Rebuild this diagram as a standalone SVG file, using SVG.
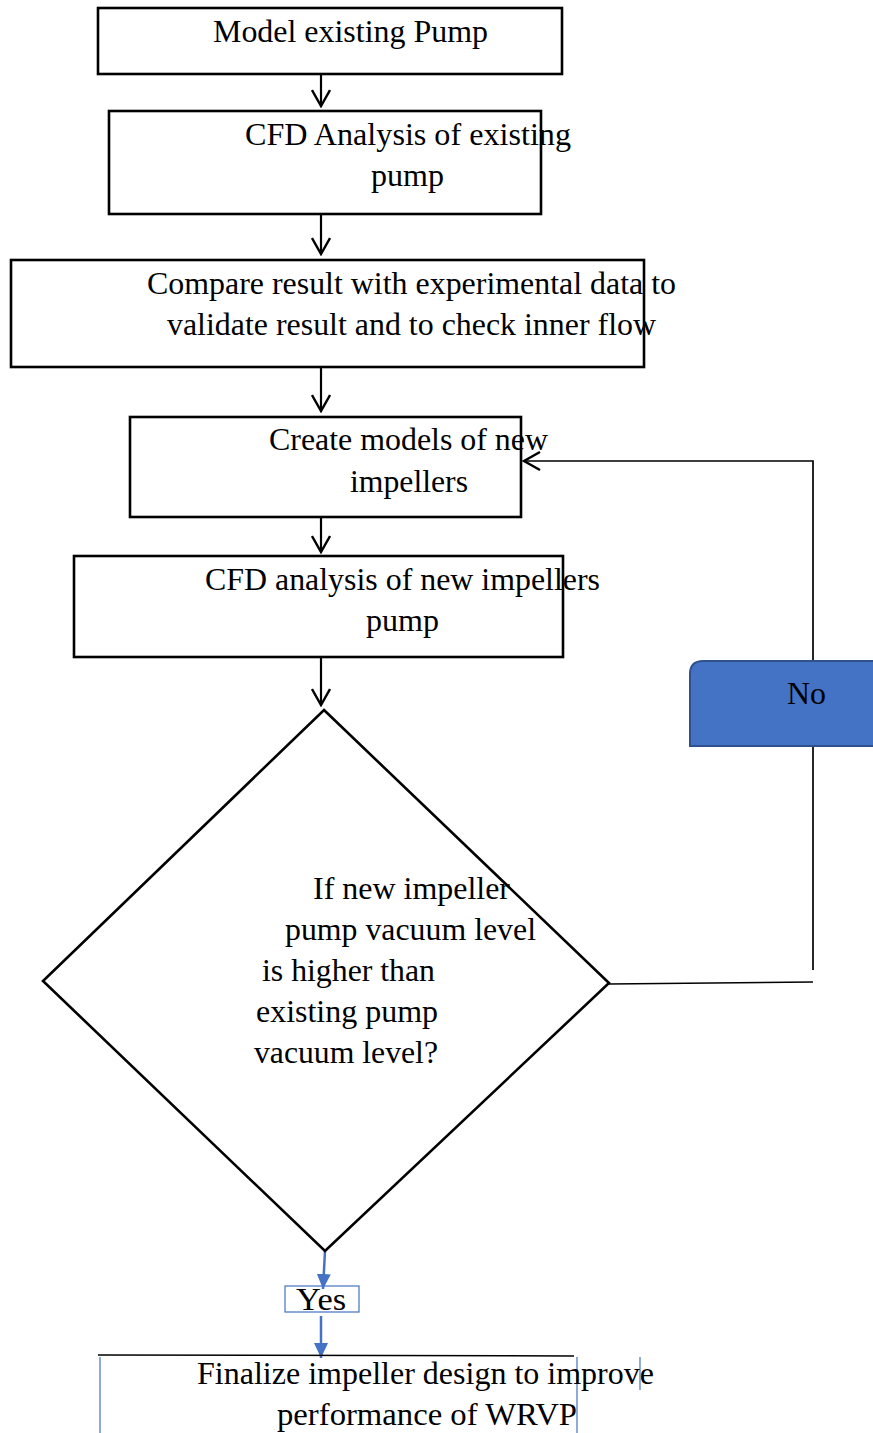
<svg xmlns="http://www.w3.org/2000/svg" width="873" height="1433" viewBox="0 0 873 1433">
<defs>
<style>
.box{fill:#fff;stroke:#000;stroke-width:2.6}
.t{font-family:"Liberation Serif","Times New Roman",Times,serif;font-size:32px;fill:#000}
.ln{fill:none;stroke:#000;stroke-width:2.2}
.thin{fill:none;stroke:#000;stroke-width:1.7}
.blue{fill:none;stroke:#4472C4;stroke-width:2.5}
.bthin{fill:none;stroke:#4472C4;stroke-width:1.2}
</style>
<marker id="open" viewBox="0 0 20 20" refX="18" refY="10" markerWidth="20" markerHeight="20" markerUnits="userSpaceOnUse" orient="auto">
<path d="M2,1 L18,10 L2,19" fill="none" stroke="#000" stroke-width="2.4"/>
</marker>
<marker id="fill" viewBox="0 0 16 16" refX="15" refY="8" markerWidth="16" markerHeight="16" markerUnits="userSpaceOnUse" orient="auto">
<path d="M0,1 L15,8 L0,15 Z" fill="#4472C4"/>
</marker>
</defs>
<g id="connectors">
<line class="ln" x1="321" y1="74" x2="321" y2="106" marker-end="url(#open)"/>
<line class="ln" x1="321" y1="214" x2="321" y2="254" marker-end="url(#open)"/>
<line class="ln" x1="321" y1="367" x2="321" y2="411" marker-end="url(#open)"/>
<line class="ln" x1="321" y1="517" x2="321" y2="552" marker-end="url(#open)"/>
<line class="ln" x1="321" y1="657" x2="321" y2="705" marker-end="url(#open)"/>
<polyline class="thin" points="609,984 813,982"/>
<line class="thin" x1="813" y1="970" x2="813" y2="746"/>
<polyline class="thin" points="813,661 813,461 524,461" marker-end="url(#open)"/>
<line class="blue" x1="325" y1="1251" x2="323" y2="1289" marker-end="url(#fill)"/>
<line class="blue" x1="321" y1="1316" x2="321" y2="1358" marker-end="url(#fill)"/>
</g>
<g id="n1">
<rect class="box" x="98" y="8" width="464" height="66"/>
<text class="t" x="213" y="42" textLength="275" lengthAdjust="spacingAndGlyphs">Model existing Pump</text>
</g>
<g id="n2">
<rect class="box" x="109" y="111" width="432" height="103"/>
<text class="t" x="245" y="145" textLength="326" lengthAdjust="spacingAndGlyphs">CFD Analysis of existing</text>
<text class="t" x="371" y="186" textLength="73" lengthAdjust="spacingAndGlyphs">pump</text>
</g>
<g id="n3">
<rect class="box" x="11" y="260" width="633" height="107"/>
<text class="t" x="147" y="294" textLength="529" lengthAdjust="spacingAndGlyphs">Compare result with experimental data to</text>
<text class="t" x="167" y="335" textLength="489" lengthAdjust="spacingAndGlyphs">validate result and to check inner flow</text>
</g>
<g id="n4">
<rect class="box" x="130" y="417" width="391" height="100"/>
<text class="t" x="269" y="450" textLength="279" lengthAdjust="spacingAndGlyphs">Create models of new</text>
<text class="t" x="350" y="492" textLength="118" lengthAdjust="spacingAndGlyphs">impellers</text>
</g>
<g id="n5">
<rect class="box" x="74" y="556" width="489" height="101"/>
<text class="t" x="205" y="590" textLength="395" lengthAdjust="spacingAndGlyphs">CFD analysis of new impellers</text>
<text class="t" x="366" y="631" textLength="73" lengthAdjust="spacingAndGlyphs">pump</text>
</g>
<g id="decision">
<polygon class="box" points="324,710 609,983 325,1251 43,981"/>
<text class="t" x="313" y="899" textLength="197" lengthAdjust="spacingAndGlyphs">If new impeller</text>
<text class="t" x="285" y="940" textLength="251" lengthAdjust="spacingAndGlyphs">pump vacuum level</text>
<text class="t" x="262" y="981" textLength="173" lengthAdjust="spacingAndGlyphs">is higher than</text>
<text class="t" x="256" y="1022" textLength="182" lengthAdjust="spacingAndGlyphs">existing pump</text>
<text class="t" x="254" y="1063" textLength="184" lengthAdjust="spacingAndGlyphs">vacuum level?</text>
</g>
<g id="no">
<path d="M690,746 L690,674 Q690,661 703,661 L875,661 L875,746 Z" fill="#4472C4" stroke="#2F528F" stroke-width="2"/>
<text class="t" x="787" y="704" textLength="39" lengthAdjust="spacingAndGlyphs">No</text>
</g>
<g id="yes">
<rect class="bthin" x="285" y="1286" width="74" height="26"/>
<text class="t" x="296" y="1310" textLength="50" lengthAdjust="spacingAndGlyphs">Yes</text>
</g>
<g id="n6">
<line x1="98" y1="1355" x2="574" y2="1356" stroke="#000" stroke-width="1.5"/>
<line class="bthin" x1="100" y1="1357" x2="100" y2="1433"/>
<line class="bthin" x1="577" y1="1357" x2="577" y2="1433"/>
<line class="bthin" x1="640" y1="1357" x2="640" y2="1390"/>
<text class="t" x="197" y="1384" textLength="457" lengthAdjust="spacingAndGlyphs">Finalize impeller design to improve</text>
<text class="t" x="277" y="1425" textLength="300" lengthAdjust="spacingAndGlyphs">performance of WRVP</text>
</g>
</svg>
